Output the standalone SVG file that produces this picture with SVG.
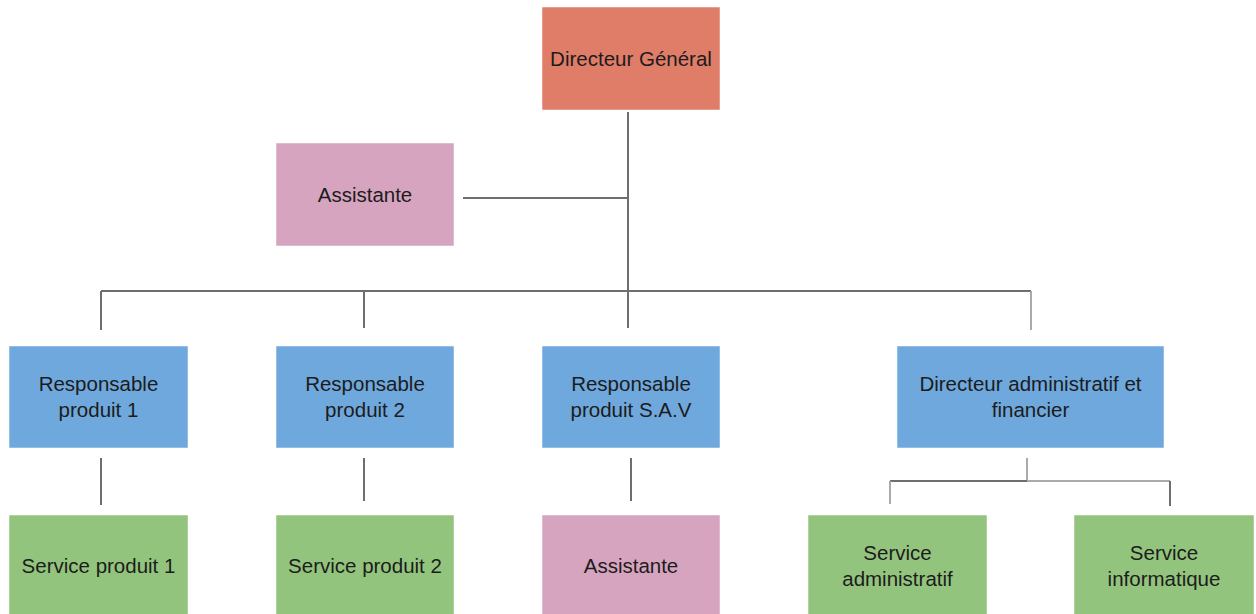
<svg xmlns="http://www.w3.org/2000/svg" width="1256" height="614" viewBox="0 0 1256 614">
<style>
.box{stroke:#ffffff;stroke-width:0.5}
.dg{fill:#DF7D69}
.pk{fill:#D6A4BF}
.bl{fill:#6FA8DC}
.gr{fill:#93C47D}
text{font-family:"Liberation Sans",Arial,sans-serif;font-size:20.5px;fill:#1c1c1c;text-anchor:middle}
.ln{stroke:#6e6e6e;stroke-width:2;fill:none}
.lt{stroke:#aaaaaa;stroke-width:2;fill:none}
</style>
<rect width="1256" height="614" fill="#ffffff"/>
<g id="connectors">
<line class="ln" x1="628" y1="112" x2="628" y2="328"/>
<line class="ln" x1="463" y1="198" x2="628" y2="198"/>
<line class="ln" x1="101" y1="291" x2="1031" y2="291"/>
<line class="ln" x1="101" y1="291" x2="101" y2="330"/>
<line class="ln" x1="364" y1="291" x2="364" y2="328"/>
<line class="lt" x1="1031" y1="291" x2="1031" y2="330"/>
<line class="ln" x1="101" y1="458" x2="101" y2="505"/>
<line class="ln" x1="364" y1="458" x2="364" y2="501"/>
<line class="ln" x1="631" y1="458" x2="631" y2="501"/>
<line class="lt" x1="1027" y1="458" x2="1027" y2="481"/>
<line class="ln" x1="890" y1="481" x2="1027" y2="481"/>
<line class="lt" x1="1027" y1="481" x2="1170" y2="481"/>
<line class="lt" x1="890" y1="481" x2="890" y2="504"/>
<line class="ln" x1="1170" y1="481" x2="1170" y2="506"/>
</g>
<g id="directeur-general">
<rect class="box dg" x="542" y="7" width="178" height="103"/>
<text x="631" y="66">Directeur Général</text>
</g>
<g id="assistante-dg">
<rect class="box pk" x="276" y="143" width="178" height="103"/>
<text x="365" y="202">Assistante</text>
</g>
<g id="responsable-produit-1">
<rect class="box bl" x="9" y="346" width="179" height="102"/>
<text x="98.5" y="391">Responsable</text>
<text x="98.5" y="417">produit 1</text>
</g>
<g id="responsable-produit-2">
<rect class="box bl" x="276" y="346" width="178" height="102"/>
<text x="365" y="391">Responsable</text>
<text x="365" y="417">produit 2</text>
</g>
<g id="responsable-sav">
<rect class="box bl" x="542" y="346" width="178" height="102"/>
<text x="631" y="391">Responsable</text>
<text x="631" y="417">produit S.A.V</text>
</g>
<g id="directeur-admin-fin">
<rect class="box bl" x="897" y="346" width="267" height="102"/>
<text x="1030.5" y="391">Directeur administratif et</text>
<text x="1030.5" y="417">financier</text>
</g>
<g id="service-produit-1">
<rect class="box gr" x="9" y="515" width="179" height="100"/>
<text x="98.5" y="573">Service produit 1</text>
</g>
<g id="service-produit-2">
<rect class="box gr" x="276" y="515" width="178" height="100"/>
<text x="365" y="573">Service produit 2</text>
</g>
<g id="assistante-sav">
<rect class="box pk" x="542" y="515" width="178" height="100"/>
<text x="631" y="573">Assistante</text>
</g>
<g id="service-administratif">
<rect class="box gr" x="808" y="515" width="179" height="100"/>
<text x="897.5" y="560">Service</text>
<text x="897.5" y="586">administratif</text>
</g>
<g id="service-informatique">
<rect class="box gr" x="1074" y="515" width="180" height="100"/>
<text x="1164" y="560">Service</text>
<text x="1164" y="586">informatique</text>
</g>
</svg>
